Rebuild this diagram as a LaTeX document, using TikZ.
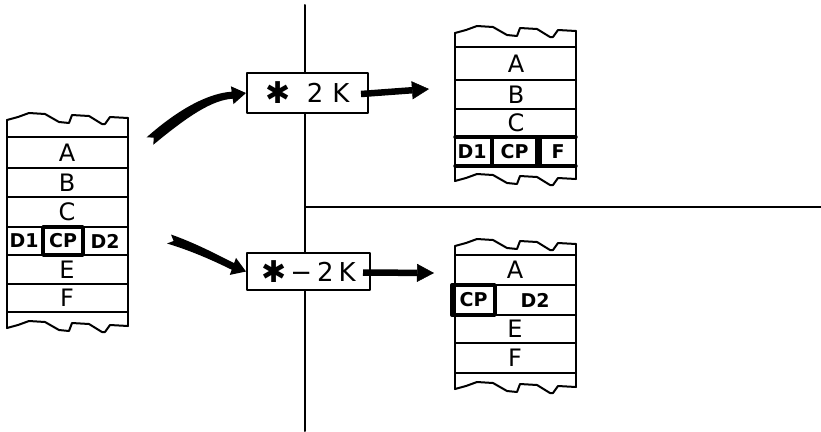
\documentclass[tikz,border=0pt]{standalone}
\usepackage{fontspec}
\setmainfont{DejaVu Sans}
\usetikzlibrary{arrows.meta,calc}
\newcommand\tornedge[2]{%
  \begin{scope}[shift={(#1,#2)}]
    \draw[ln] (0,0) -- (11,-3) -- (22,-7) -- (38,-6) -- (52,2) -- (62,3) -- (65,-5) -- (82,-4) -- (95,4) -- (98,4) -- (103,-3) -- (121,-2);
  \end{scope}}
\newcommand\astsym{\raisebox{-1pt}{\fontsize{30}{30}\selectfont ✱}}
\begin{document}
\begin{tikzpicture}[x=1pt,y=-1pt, line cap=round, line join=round,
  ln/.style={line width=2pt},
  thk/.style={line width=3.4pt},
  lbl/.style={font=\fontsize{24}{24}\selectfont, inner sep=0pt},
  blbl/.style={font=\bfseries\fontsize{19}{19}\selectfont, inner sep=0pt},
  cpbox/.style={draw, line width=3.4pt, inner sep=0pt, font=\bfseries\fontsize{19}{19}\selectfont},
  opbox/.style={draw, fill=white, line width=2pt, inner sep=0pt, font=\fontsize{26}{26}\selectfont},
  arr/.style={line width=6.5pt, line cap=butt, -{Triangle[length=17pt,width=18pt,line width=0.5pt]}},
  tap/.style={fill=black}]
\useasboundingbox (0,0) rectangle (821,431);

% dividing lines
\draw[ln] (305,5) -- (305,431);
\draw[ln] (305,207) -- (821,207);

% ---------- left stack ----------
\tornedge{7}{120}
\tornedge{7}{328}
\draw[ln] (7,120) -- (7,328);
\draw[ln] (128,118) -- (128,326);
\foreach \y in {137,168,197,227,255,284,312} \draw[ln] (7,\y) -- (128,\y);
\node[lbl] (LA) at (67,152.5) {A};
\node[lbl] (LB) at (67,182.5) {B};
\node[lbl] (LC) at (67,212) {C};
\node[blbl] (LD1) at (24,241) {D1};
\node[cpbox, minimum width=40pt, minimum height=28pt] (LCP) at (63,241) {CP};
\node[blbl] (LD2) at (105,241) {D2};
\node[lbl] (LE) at (67,269.5) {E};
\node[lbl] (LF) at (67,298) {F};

% ---------- top-right stack ----------
\tornedge{455}{33}
\tornedge{455}{181}
\draw[ln] (455,33) -- (455,181);
\draw[ln] (576,31) -- (576,179);
\foreach \y in {47,80,109} \draw[ln] (455,\y) -- (576,\y);
\draw[thk] (455,137) -- (576,137);
\draw[thk] (455,166) -- (576,166);
\draw[thk] (540,137) -- (540,166);
\node[lbl] (TA) at (516,63.5) {A};
\node[lbl] (TB) at (516,94.5) {B};
\node[lbl] (TC) at (516,123) {C};
\node[blbl] (TD1) at (472,152) {D1};
\node[cpbox, minimum width=45pt, minimum height=29pt] (TCP) at (514.5,151.5) {CP};
\node[blbl] (TF) at (558,152) {F};

% ---------- bottom-right stack ----------
\tornedge{455}{246}
\tornedge{455}{389}
\draw[ln] (455,246) -- (455,389);
\draw[ln] (576,244) -- (576,387);
\foreach \y in {255,285,315,343,373} \draw[ln] (455,\y) -- (576,\y);
\node[lbl] (BA) at (515,270) {A};
\node[cpbox, minimum width=43pt, minimum height=30pt] (BCP) at (473.5,300) {CP};
\node[blbl] (BD2) at (535,300) {D2};
\node[lbl] (BE) at (515,329) {E};
\node[lbl] (BF) at (515,358) {F};

% ---------- operation boxes ----------
\node[opbox, minimum width=121pt, minimum height=40pt] (op1) at (307.5,93)
  {\astsym\hspace{16pt}2\hspace{9pt}K\hspace{26pt}};
\node[opbox, minimum width=123pt, minimum height=37pt] (op2) at (308.5,271.5)
  {\astsym\hspace{4pt}−\hspace{5pt}2\hspace{5pt}K\hspace{12pt}};

% ---------- arrows ----------
\coordinate (s1) at (150,141);
\coordinate (e1) at (429,89);
\coordinate (s2) at (169,239);
\coordinate (e2) at (434,273);
% tapered incoming arrow 1
\fill[tap] (146.7,137.25) .. controls (182,106) and (211,93) .. (231.7,91.7)
  -- (230.9,86.3) -- (op1.west) -- (233.5,104.1) -- (232.7,98.7)
  .. controls (212,100) and (188,116) .. (153.3,144.75) -- (153.75,137.7) -- cycle;
% tapered incoming arrow 2
\fill[tap] (171,234.5) .. controls (195,243) and (216,254) .. (234.1,263.1)
  -- (236,257.9) -- (op2.west) -- (229.8,274.9) -- (231.7,269.7)
  .. controls (214,261) and (192,251) .. (167,243.5) -- (173.6,241) -- cycle;
\draw[arr] ($(op1.east)+(-8,1)$) -- (e1);
\draw[arr] ($(op2.east)+(-8,1)$) -- (e2);
\end{tikzpicture}
\end{document}
